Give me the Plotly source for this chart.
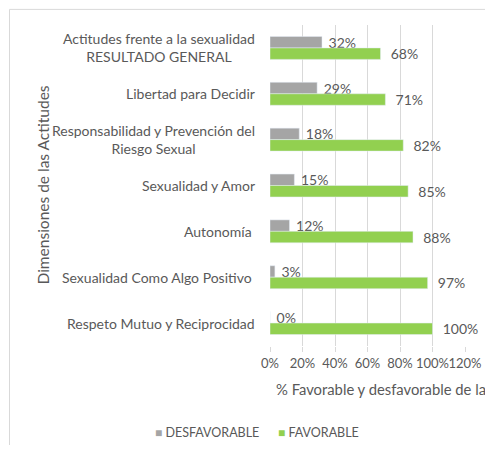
import plotly.graph_objects as go

categories = [
    "Actitudes frente a la sexualidad<br>RESULTADO GENERAL",
    "Libertad para Decidir",
    "Responsabilidad y Prevención del<br>Riesgo Sexual",
    "Sexualidad y Amor",
    "Autonomía ",
    "Sexualidad Como Algo Positivo ",
    "Respeto Mutuo y Reciprocidad",
]
desfavorable = [0.32, 0.29, 0.18, 0.15, 0.12, 0.03, 0.00]
favorable = [0.68, 0.71, 0.82, 0.85, 0.88, 0.97, 1.00]
series_names = ["DESFAVORABLE", "FAVORABLE"]
x_ticks = [0, 0.2, 0.4, 0.6, 0.8, 1.0, 1.2]
x_ticklabels = ["0%", "20%", "40%", "60%", "80%", "100%", "120%"]

FONT = "Lato, Carlito, Calibri, sans-serif"
TXT = "#595959"
GRAY = "#A5A5A5"
GREEN = "#92D050"
COLORS = [GRAY, GREEN]

OFF = 8  # page body margin
W, H = 493 - 2 * OFF, 453 - 2 * OFF
PL, PR, PT, PB = 270, 465, 24.6, 345.6  # plot area in page pixels
L = PL - OFF
R = W - (PR - OFF)
T = PT - OFF
B = H - (PB - OFF)
pw = PR - PL
ph = PB - PT

def px_x(p):
    return (p - PL) / pw

def px_y(p):
    return (PB - p) / ph

fig = go.Figure()
for name, vals, col, pad in zip(series_names, [desfavorable, favorable], COLORS, [" ", "  "]):
    fig.add_trace(go.Bar(
        name=name, y=categories, x=vals, orientation="h",
        marker_color=col, text=[f"{round(v*100)}%" for v in vals],
        texttemplate=pad + "%{text}", textposition="outside", constraintext="none",
        cliponaxis=False, textfont=dict(size=14, color=TXT, family=FONT),
        showlegend=False,
    ))

# category labels (centered lines, right-anchored)
for c in categories:
    fig.add_annotation(x=px_x(257), xref="paper", y=c, yref="y", text=c,
                       xanchor="right", align="center", showarrow=False,
                       font=dict(size=14, color=TXT, family=FONT))

fig.add_annotation(x=px_x(42), xref="paper", y=0.5, yref="paper",
                   text="Dimensiones de las Actitudes", textangle=-90,
                   showarrow=False, xanchor="center", yanchor="middle",
                   font=dict(size=15.5, color=TXT, family=FONT))
fig.add_annotation(x=px_x(274), xref="paper", y=px_y(389), yref="paper",
                   text="% Favorable y desfavorable de la",
                   showarrow=False, xanchor="left", yanchor="middle",
                   font=dict(size=14.8, color=TXT, family=FONT))

# legend (Excel style: small square + label)
legend_x = [153, 276]
for name, col, lx in zip(series_names, COLORS, legend_x):
    fig.add_annotation(x=px_x(lx), xref="paper", y=px_y(432), yref="paper",
                       text=f"<span style='color:{col};font-size:12px'>■</span> {name}",
                       showarrow=False, xanchor="left", yanchor="middle",
                       font=dict(size=12.5, color=TXT, family=FONT))

fig.add_shape(type="rect", xref="paper", yref="paper",
              x0=px_x(9.5), x1=px_x(520), y0=px_y(9), y1=px_y(480),
              line=dict(color="#D9D9D9", width=1), fillcolor="rgba(0,0,0,0)")

fig.update_layout(
    width=W, height=H, margin=dict(l=L, r=R, t=T, b=B, autoexpand=False),
    paper_bgcolor="white", plot_bgcolor="white",
    barmode="group", bargap=0.5, bargroupgap=0,
    font=dict(family=FONT, color=TXT),
    showlegend=False,
    xaxis=dict(range=[0, 1.2], tickvals=x_ticks, ticktext=x_ticklabels,
               tickangle=0,
               showgrid=True, gridcolor="#D9D9D9", gridwidth=1,
               zeroline=False, showline=False, ticks="outside", ticklen=5,
               tickcolor="#D9D9D9", tickfont=dict(size=13, color=TXT, family=FONT)),
    yaxis=dict(autorange="reversed", showticklabels=False, showgrid=False,
               zeroline=False, showline=False, ticks=""),
)

fig.write_html("out.html")
